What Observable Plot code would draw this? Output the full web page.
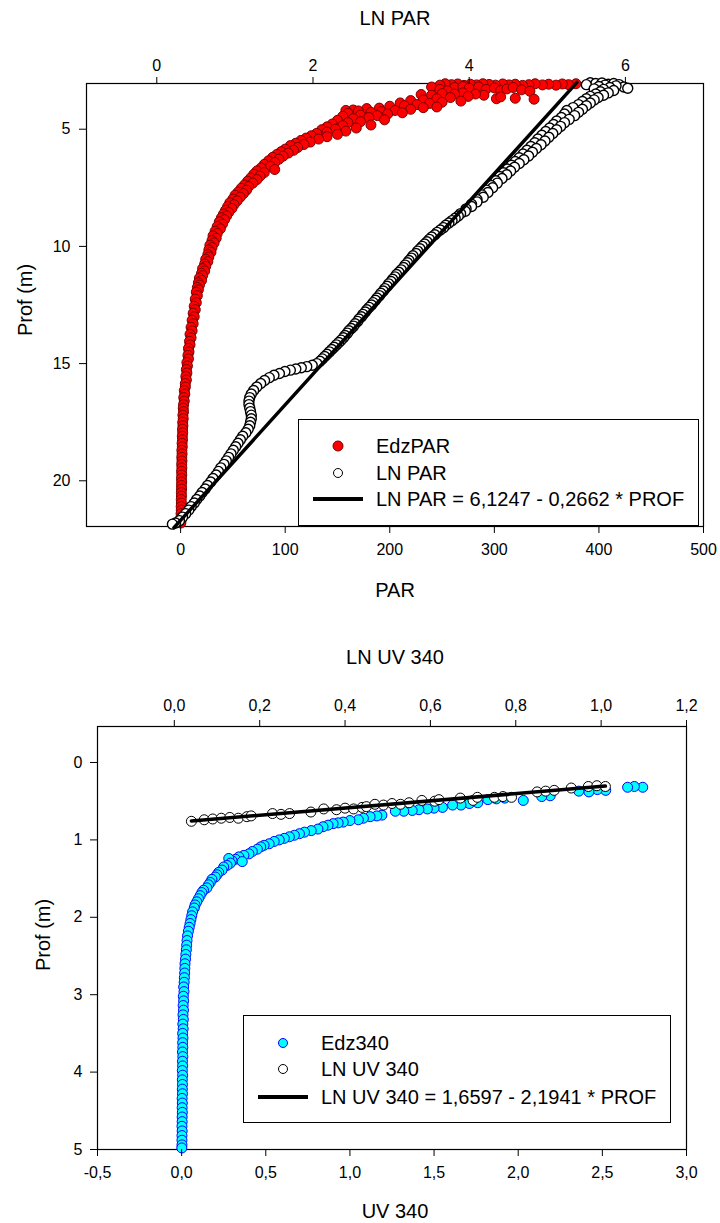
<!DOCTYPE html>
<html><head><meta charset="utf-8">
<script src="https://cdn.jsdelivr.net/npm/d3@7"></script>
<script src="https://cdn.jsdelivr.net/npm/@observablehq/plot@0.6"></script>
<style>
body{margin:0;background:#fff;}
#wrap{position:relative;width:720px;height:1223px;font-family:"Liberation Sans",Arial,sans-serif;color:#000;overflow:hidden;}
#wrap svg.pl{position:absolute;left:0;}
.t{position:absolute;transform:translate(-50%,-50%);white-space:nowrap;font-size:20px;line-height:1;}
.lg{position:absolute;border:1px solid #000;background:#fff;box-sizing:border-box;}
.lg .row{position:absolute;white-space:nowrap;font-size:20px;line-height:1;transform:translateY(-50%);}
.lg svg{position:absolute;}
</style></head><body><div id="wrap"></div>
<script>
// ---------- Top panel data (depth m, value) ----------
const parTicks = [0, 100, 200, 300, 400, 500];
const lnParTicks = [0, 2, 4, 6];
const depthTicksTop = [5, 10, 15, 20];
const edzParPoints = [
[3.06,378],[3.10,371],[3.07,365],[3.12,359],[3.08,352],[3.11,346],[3.06,339],[3.10,333],[3.13,327],[3.08,320],[3.11,314],[3.07,308],[3.12,301],[3.09,295],[3.06,289],[3.11,283],[3.08,277],[3.13,271],[3.07,265],[3.10,259],[3.06,253],[3.12,248],
[3.22,262],[3.18,270],[3.25,276],[3.20,285],[3.30,292],[3.24,300],[3.35,306],[3.28,312],[3.22,318],[3.32,326],[3.38,334],[3.20,240],[3.30,248],[3.36,255],
[3.70,302],[3.62,306],[3.68,320],[3.72,338],[3.55,290],[3.50,282],
[3.45,270],[3.50,262],[3.48,250],[3.55,240],[3.52,230],
[3.60,275],[3.65,258],[3.70,245],[3.75,232],[3.80,268],[3.78,220],[3.85,250],[3.90,238],[3.88,210],
[3.95,226],[4.00,214],[4.02,200],[4.05,245],[4.10,190],[4.08,232],[4.12,178],[4.15,220],
[4.18,165],[4.20,158],[4.22,170],[4.20,205],[4.25,192],[4.28,182],[4.30,212],[4.32,160],
[4.35,198],[4.40,172],[4.42,188],[4.45,155],[4.50,180],[4.55,165],[4.60,195],[4.62,150],
[4.68,172],[4.72,160],[4.78,145],[4.82,182],[4.85,155],[4.90,140],[4.95,168],[5.00,148],[5.02,135],
[5.08,158],[5.12,140],[5.18,130],[5.22,150],[5.28,125],[5.32,140],[5.38,120],[5.42,132],[5.48,115],
[5.55,124],[5.60,110],[5.65,118],[5.70,105],[5.78,112],[5.85,100],[5.90,108],[5.96,96],[6.02,103],
[6.08,92],[6.15,98],[6.20,88],[6.28,94],[6.35,84],[6.42,90],[6.50,80],
[6.58,86],[6.65,77],[6.72,90],[6.78,73],[6.85,80],[6.92,70],[7.00,76],
[7.08,67],[7.15,73],[7.22,64],[7.30,69],[7.38,61],[7.45,65],
[7.52,58],[7.60,63],[7.68,55],[7.75,60],[7.82,52],[7.90,57],[7.98,50],
[8.06,54],[8.14,47],[8.22,51],[8.30,45],[8.38,49],[8.46,43],
[8.55,46],[8.62,41],[8.70,44],[8.78,39],[8.86,42],[8.95,37],
[9.05,40],[9.15,35],[9.25,38],[9.35,33],[9.45,35],[9.55,31],[9.65,34],[9.75,30],[9.85,32],[9.95,28],
[10.05,30],[10.15,27],[10.25,29],[10.35,26],[10.45,27],[10.55,24],[10.65,26],[10.75,23],[10.85,24],[10.95,21],
[11.05,23],[11.15,20],[11.25,21],[11.35,18],[11.45,20],[11.55,17],[11.65,18],[11.75,16],[11.85,17],[11.95,15],
[12.10,16],[12.25,14],[12.40,15],[12.55,13],[12.70,14],[12.85,12],
[13.00,13],[13.15,11],[13.30,12],[13.45,10],[13.60,11],[13.75,9],[13.90,10],
[14.05,8.5],[14.20,9],[14.35,7.5],[14.50,8],[14.65,7],[14.80,7.5],[14.95,6],
[15.10,6.5],[15.25,5.5],[15.40,6],[15.55,5],[15.70,5.5],[15.85,4.5],
[16.00,4.5],[16.15,3.5],[16.30,4],[16.45,3],[16.60,3.5],[16.75,2.8],[16.90,2.5],
[17.05,2.8],[17.20,2.2],[17.35,2.5],[17.50,2],[17.65,2.2],[17.80,1.8],[17.95,2],
[18.10,1.6],[18.25,1.8],[18.40,1.4],[18.55,1.6],[18.70,1.2],[18.85,1.4],
[19.00,1.1],[19.15,1.3],[19.30,1.0],[19.45,1.2],[19.60,0.9],[19.75,1.1],[19.90,0.8],
[20.05,1.0],[20.20,0.8],[20.35,0.9],[20.50,0.7],[20.65,0.8],[20.80,0.6],[20.95,0.7],
[21.10,0.5],[21.25,0.6],[21.40,0.4],[21.55,0.5],[21.70,0.3],[21.80,0.2]
];
const lnParPoints = [
[3.02,5.55],[3.05,5.62],[3.03,5.70],[3.08,5.78],[3.05,5.85],[3.10,5.92],[3.20,5.98],[3.25,6.03],[3.15,5.88],[3.12,5.74],[3.18,5.66],[3.10,5.50],[3.22,5.80],[3.30,5.72],[3.35,5.85],[3.28,5.60],[3.40,5.68],[3.45,5.78],[3.50,5.62],[3.55,5.72],[3.60,5.55],[3.65,5.65],[3.70,5.50],[3.75,5.60],[3.82,5.45],[3.88,5.55],[3.95,5.40],[4.00,5.50],[4.08,5.33],[4.15,5.45],[4.20,5.25],[4.28,5.40],[4.35,5.22],[4.42,5.35],[4.50,5.18],[4.58,5.28],[4.65,5.12],[4.72,5.22],[4.80,5.08],[4.88,5.17],[4.95,5.03],[5.02,5.12],[5.10,4.98],[5.18,5.07],[5.26,4.93],[5.34,5.02],[5.42,4.88],[5.50,4.97],[5.58,4.84],[5.66,4.92],[5.74,4.79],[5.82,4.86],[5.90,4.74],[5.98,4.81],[6.06,4.69],[6.14,4.76],[6.22,4.64],[6.30,4.70],[6.38,4.59],[6.46,4.64],[6.54,4.54],[6.62,4.58],[6.70,4.49],[6.78,4.53],[6.86,4.44],[6.94,4.48],[7.02,4.39],[7.10,4.42],[7.20,4.34],[7.30,4.36],[7.40,4.28],[7.50,4.30],[7.60,4.22],[7.70,4.24],[7.80,4.16],[7.90,4.18],[8.00,4.10],[8.10,4.10],[8.20,4.03],[8.30,4.03],[8.40,3.96],[8.50,3.95],[8.60,3.89],[8.70,3.86],[8.80,3.82],[8.90,3.78],[9.00,3.74],[9.10,3.70],[9.20,3.67],[9.30,3.63],[9.40,3.59],[9.50,3.56],[9.60,3.52],[9.70,3.49],[9.80,3.46],[9.90,3.43],[10.00,3.40],[10.10,3.37],[10.20,3.34],[10.30,3.32],[10.40,3.28],[10.50,3.26],[10.60,3.23],[10.70,3.21],[10.80,3.18],[10.90,3.16],[11.00,3.13],[11.10,3.10],[11.20,3.07],[11.30,3.05],[11.40,3.02],[11.50,3.00],[11.60,2.97],[11.70,2.95],[11.80,2.92],[11.90,2.90],[12.00,2.87],[12.10,2.85],[12.20,2.82],[12.30,2.80],[12.40,2.77],[12.50,2.75],[12.60,2.72],[12.70,2.69],[12.80,2.67],[12.90,2.64],[13.00,2.62],[13.10,2.59],[13.20,2.57],[13.30,2.54],[13.40,2.52],[13.50,2.49],[13.60,2.46],[13.70,2.44],[13.80,2.41],[13.90,2.39],[14.00,2.36],[14.10,2.33],[14.20,2.30],[14.30,2.27],[14.40,2.24],[14.50,2.21],[14.60,2.18],[14.70,2.15],[14.80,2.12],[14.90,2.09],[15.00,2.05],[15.07,1.99],[15.13,1.92],[15.18,1.85],[15.23,1.78],[15.28,1.71],[15.34,1.64],[15.42,1.57],[15.50,1.50],[15.60,1.44],[15.72,1.38],[15.85,1.33],[16.00,1.28],[16.15,1.24],[16.30,1.21],[16.45,1.19],[16.60,1.18],[16.75,1.18],[16.90,1.19],[17.05,1.20],[17.20,1.21],[17.35,1.21],[17.50,1.20],[17.65,1.19],[17.80,1.17],[17.95,1.14],[18.10,1.10],[18.25,1.07],[18.40,1.04],[18.55,1.01],[18.70,0.98],[18.85,0.95],[19.00,0.92],[19.15,0.89],[19.30,0.86],[19.45,0.82],[19.60,0.79],[19.75,0.76],[19.90,0.72],[20.05,0.69],[20.20,0.65],[20.35,0.62],[20.50,0.58],[20.65,0.55],[20.80,0.51],[20.95,0.48],[21.10,0.44],[21.25,0.41],[21.40,0.37],[21.55,0.33],[21.70,0.29],[21.80,0.24],[21.85,0.20]
];
const lnParFitDepth = [3.0, 22.0];
const lnParFitValue = [5.38, 0.22];

// ---------- Bottom panel data ----------
const uvTicks = [-0.5, 0, 0.5, 1, 1.5, 2, 2.5, 3];
const lnUvTicks = [0, 0.2, 0.4, 0.6, 0.8, 1.0, 1.2];
const depthTicksBottom = [0, 1, 2, 3, 4, 5];
const edz340Points = [
[0.32,2.74],[0.31,2.69],[0.32,2.65],[0.36,2.52],[0.35,2.47],[0.38,2.42],[0.37,2.36],[0.43,2.19],[0.44,2.14],[0.49,2.03],
[0.46,1.92],[0.47,1.87],[0.48,1.82],[0.52,1.76],[0.53,1.71],[0.55,1.66],[0.55,1.61],
[0.58,1.55],[0.59,1.50],[0.60,1.46],[0.61,1.41],[0.62,1.37],[0.63,1.32],[0.63,1.27],
[0.68,1.19],[0.69,1.16],[0.70,1.12],[0.72,1.08],
[0.74,1.05],[0.75,1.00],[0.77,0.96],[0.78,0.93],[0.79,0.90],[0.81,0.87],[0.83,0.84],
[0.86,0.81],[0.88,0.77],[0.90,0.73],[0.92,0.70],[0.94,0.67],[0.96,0.64],
[0.98,0.61],[1.00,0.58],[1.02,0.55],[1.05,0.52],[1.07,0.49],[1.09,0.47],
[1.12,0.45],[1.15,0.42],[1.18,0.40],[1.20,0.37],
[1.22,0.34],[1.25,0.32],[1.27,0.30],[1.24,0.28],[1.30,0.29],[1.33,0.27],[1.35,0.25],[1.28,0.36],
[1.39,0.24],[1.42,0.22],[1.45,0.21],[1.48,0.20],[1.51,0.18],
[1.55,0.17],[1.58,0.16],[1.62,0.15],[1.65,0.13],[1.68,0.12],
[1.72,0.11],[1.76,0.10],[1.80,0.09],[1.84,0.08],[1.88,0.075],
[1.93,0.065],[1.98,0.06],[2.03,0.055],[2.08,0.05],[2.13,0.045],[2.18,0.04],
[2.24,0.035],[2.30,0.032],[2.36,0.03],[2.42,0.028],[2.48,0.025],[2.54,0.023],[2.60,0.02],[2.66,0.019],[2.72,0.018],[2.78,0.016],
[2.84,0.015],[2.90,0.012],[2.96,0.014],[3.02,0.010],[3.08,0.012],[3.14,0.009],[3.20,0.011],[3.26,0.008],[3.32,0.010],[3.38,0.007],
[3.44,0.009],[3.50,0.006],[3.56,0.008],[3.62,0.006],[3.68,0.007],[3.74,0.005],[3.80,0.007],[3.86,0.005],[3.92,0.006],[3.98,0.004],
[4.04,0.006],[4.10,0.004],[4.16,0.005],[4.22,0.004],[4.28,0.005],[4.34,0.003],[4.40,0.004],[4.46,0.003],[4.52,0.004],[4.58,0.003],
[4.64,0.003],[4.70,0.002],[4.76,0.003],[4.82,0.002],[4.88,0.002],[4.94,0.002],[4.98,0.001]
];
const lnUv340Points = [
[0.76,0.04],[0.74,0.07],[0.73,0.09],[0.72,0.11],[0.71,0.13],[0.72,0.15],[0.70,0.17],[0.69,0.18],[0.66,0.23],[0.67,0.25],
[0.66,0.27],[0.64,0.32],[0.60,0.35],[0.61,0.38],[0.59,0.40],[0.60,0.42],[0.58,0.44],[0.57,0.45],[0.54,0.47],[0.55,0.49],
[0.53,0.51],[0.54,0.53],[0.52,0.55],[0.49,0.58],[0.50,0.61],[0.48,0.62],[0.46,0.67],[0.49,0.70],[0.45,0.71],[0.45,0.75],
[0.44,0.77],[0.45,0.79],[0.38,0.85],[0.37,0.87],[0.36,0.89],[0.33,0.93],[0.31,0.97],[0.30,0.99],[0.31,1.01]
];
const lnUvFitDepth = [0.755, 0.305];
const lnUvFitValue = [0.04, 1.01];

// ---------- helpers ----------
const FONT = '"Liberation Sans", Arial, sans-serif';
const wrap = document.getElementById("wrap");
const comma1 = d => d.toFixed(1).replace(".", ",");
const baseStyle = {background: "transparent", fontFamily: FONT, fontSize: "16px", overflow: "visible", color: "#000"};

function place(svg, top) {
  svg.classList.add("pl");
  svg.style.top = top + "px";
  wrap.appendChild(svg);
}
function text(str, x, y, rot, size) {
  const d = document.createElement("div");
  d.className = "t";
  d.textContent = str;
  d.style.left = x + "px"; d.style.top = y + "px";
  if (size) d.style.fontSize = size + "px";
  if (rot) d.style.transform = "translate(-50%,-50%) rotate(-90deg)";
  wrap.appendChild(d);
}
function legend(box, rows) {
  const lg = document.createElement("div");
  lg.className = "lg";
  Object.assign(lg.style, {left: box.x + "px", top: box.y + "px", width: box.w + "px", height: box.h + "px"});
  for (const r of rows) {
    const ns = "http://www.w3.org/2000/svg";
    const s = document.createElementNS(ns, "svg");
    s.setAttribute("width", 60); s.setAttribute("height", 20);
    s.style.left = (r.sx - box.x - 30) + "px"; s.style.top = (r.y - box.y - 10) + "px";
    let el;
    if (r.kind === "line") {
      el = document.createElementNS(ns, "line");
      el.setAttribute("x1", 30 - r.half); el.setAttribute("x2", 30 + r.half);
      el.setAttribute("y1", 10); el.setAttribute("y2", 10);
      el.setAttribute("stroke", "#000"); el.setAttribute("stroke-width", 4);
    } else {
      el = document.createElementNS(ns, "circle");
      el.setAttribute("cx", 30); el.setAttribute("cy", 10); el.setAttribute("r", r.r);
      el.setAttribute("fill", r.fill); el.setAttribute("stroke", r.stroke); el.setAttribute("stroke-width", 1);
    }
    s.appendChild(el);
    lg.appendChild(s);
    const t = document.createElement("div");
    t.className = "row";
    t.textContent = r.label;
    t.style.left = (r.tx - box.x) + "px"; t.style.top = (r.y - box.y) + "px";
    lg.appendChild(t);
  }
  wrap.appendChild(lg);
}

// ---------- Top panel ----------
const topGeom = {width: 720, height: 610, marginTop: 83, marginBottom: 84, marginLeft: 86, marginRight: 17};
const topY = {domain: [3.05, 21.95], reverse: true};

place(Plot.plot({
  ...topGeom, style: baseStyle,
  x: {domain: [-90, 500]},
  y: topY,
  marks: [
    Plot.frame({stroke: "#000", strokeWidth: 1.2}),
    Plot.dot(edzParPoints, {x: d => d[1], y: d => d[0], r: 5, fill: "#ff0000", stroke: "#7a0000", strokeWidth: 1}),
    Plot.axisX({anchor: "bottom", ticks: parTicks, tickSize: 7, tickPadding: 10, label: null, tickFormat: d => String(d)}),
    Plot.axisY({anchor: "left", ticks: depthTicksTop, tickSize: 7, tickPadding: 9, label: null, tickFormat: d => String(d)})
  ]
}), 0);

place(Plot.plot({
  ...topGeom, style: baseStyle,
  x: {domain: [-0.9, 7.0]},
  y: {...topY, axis: null},
  marks: [
    Plot.dot(lnParPoints, {x: d => d[1], y: d => d[0], r: 5, fill: "#fff", stroke: "#000", strokeWidth: 1.4}),
    Plot.line(lnParFitDepth.map((d, i) => [lnParFitValue[i], d]), {x: d => d[0], y: d => d[1], stroke: "#000", strokeWidth: 3.5}),
    Plot.axisX({anchor: "top", ticks: lnParTicks, tickSize: 7, tickPadding: 6, label: null, tickFormat: d => String(d)})
  ]
}), 0);

text("LN PAR", 395, 18);
text("PAR", 395, 590);
text("Prof (m)", 25, 300, true);
legend({x: 298, y: 419, w: 401, h: 107}, [
  {kind: "dot", r: 5, fill: "#ff0000", stroke: "#7a0000", sx: 337, tx: 375, y: 445, label: "EdzPAR"},
  {kind: "dot", r: 4.5, fill: "#fff", stroke: "#000", sx: 337, tx: 375, y: 472, label: "LN PAR"},
  {kind: "line", half: 25, sx: 337, tx: 375, y: 498, label: "LN PAR = 6,1247 - 0,2662 * PROF"}
]);

// ---------- Bottom panel ----------
const botTop = 620;
const botGeom = {width: 720, height: 603, marginTop: 106, marginBottom: 74, marginLeft: 97, marginRight: 34};
const botY = {domain: [-0.465, 5], reverse: true};

place(Plot.plot({
  ...botGeom, style: baseStyle,
  x: {domain: [-0.5, 3.0]},
  y: botY,
  marks: [
    Plot.frame({stroke: "#000", strokeWidth: 1.2}),
    Plot.dot(edz340Points, {x: d => d[1], y: d => d[0], r: 5, fill: "#00ffff", stroke: "#0000ff", strokeWidth: 1}),
    Plot.axisX({anchor: "bottom", ticks: uvTicks, tickSize: 7, tickPadding: 10, label: null, tickFormat: comma1}),
    Plot.axisY({anchor: "left", ticks: depthTicksBottom, tickSize: 7, tickPadding: 8, label: null, tickFormat: d => String(d)})
  ]
}), botTop);

place(Plot.plot({
  ...botGeom, style: baseStyle,
  x: {domain: [-0.18, 1.2]},
  y: {...botY, axis: null},
  marks: [
    Plot.dot(lnUv340Points, {x: d => d[1], y: d => d[0], r: 5, fill: "#fff", stroke: "#000", strokeWidth: 1}),
    Plot.line(lnUvFitDepth.map((d, i) => [lnUvFitValue[i], d]), {x: d => d[0], y: d => d[1], stroke: "#000", strokeWidth: 3.5}),
    Plot.axisX({anchor: "top", ticks: lnUvTicks, tickSize: 7, tickPadding: 9, label: null, tickFormat: comma1})
  ]
}), botTop);

text("LN UV 340", 395, 657);
text("UV 340", 395, 1211);
text("Prof (m)", 43, 935, true);
legend({x: 243, y: 1015, w: 428, h: 108}, [
  {kind: "dot", r: 4.5, fill: "#00ffff", stroke: "#0000ff", sx: 282, tx: 320, y: 1042, label: "Edz340"},
  {kind: "dot", r: 4.5, fill: "#fff", stroke: "#000", sx: 282, tx: 320, y: 1068, label: "LN UV 340"},
  {kind: "line", half: 25, sx: 282, tx: 320, y: 1096, label: "LN UV 340 = 1,6597 - 2,1941 * PROF"}
]);
</script></body></html>
